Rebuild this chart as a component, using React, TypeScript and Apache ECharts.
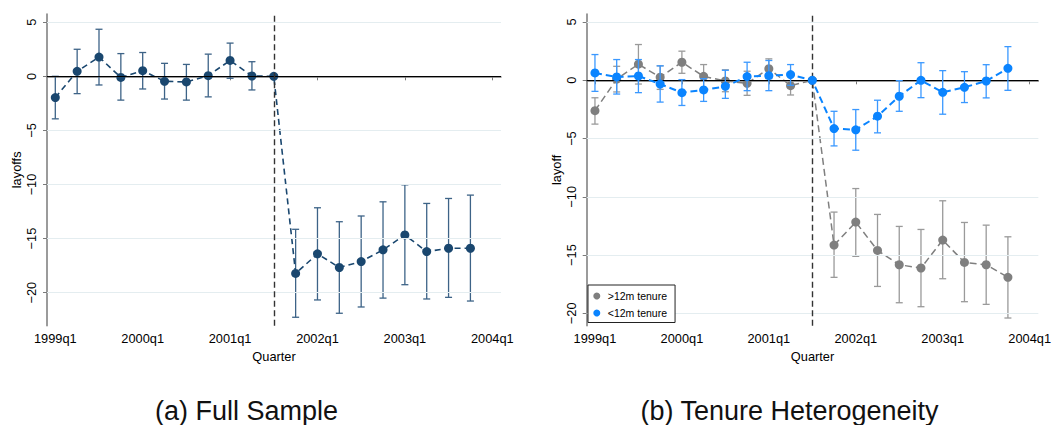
import React, { useEffect, useRef } from "react";
import * as echarts from "echarts";

// Quarter categories (x position = index in this list)
const quarters = [
  "1999q1", "1999q2", "1999q3", "1999q4",
  "2000q1", "2000q2", "2000q3", "2000q4",
  "2001q1", "2001q2", "2001q3", "2001q4",
  "2002q1", "2002q2", "2002q3", "2002q4",
  "2003q1", "2003q2", "2003q3", "2003q4",
];
const xTickPositions = [0, 4, 8, 12, 16, 20];
const xTickLabels = ["1999q1", "2000q1", "2001q1", "2002q1", "2003q1", "2004q1"];
const yTicks = [-20, -15, -10, -5, 0, 5];
const eventIndex = 10;

// (a) Full sample
const fullCoef = [-1.96, 0.46, 1.78, -0.1, 0.52, -0.46, -0.52, 0.06, 1.47, 0.03, 0, -18.22, -16.41, -17.67, -17.12, -16.04, -14.66, -16.2, -15.89, -15.89];
const fullLo = [-3.93, -1.6, -0.8, -2.2, -1.17, -2.1, -2.2, -1.9, -0.18, -1.26, null, -22.27, -20.67, -21.9, -21.32, -20.5, -19.26, -20.58, -20.43, -20.77];
const fullHi = [0.0, 2.5, 4.35, 2.1, 2.2, 1.2, 1.1, 2.05, 3.07, 1.35, null, -14.14, -12.15, -13.44, -12.91, -11.6, -10.03, -11.75, -11.29, -10.98];

// (b) >12m tenure
const oldCoef = [-2.61, 0.1, 1.38, 0.26, 1.55, 0.34, -0.06, -0.26, 1.0, -0.46, 0, -14.14, -12.17, -14.6, -15.83, -16.11, -13.71, -15.63, -15.83, -16.91];
const oldLo = [-3.76, -1.0, -0.32, -0.78, 0.6, -0.63, -0.98, -1.29, 0.15, -1.26, null, -16.91, -15.11, -17.69, -19.09, -19.43, -17.03, -19.0, -19.23, -20.4];
const oldHi = [-1.5, 1.2, 3.07, 1.24, 2.5, 1.35, 0.9, 0.78, 1.84, 0.37, null, -11.31, -9.29, -11.51, -12.54, -12.8, -10.34, -12.2, -12.43, -13.43];

// (b) <12m tenure
const youngCoef = [0.63, 0.29, 0.37, -0.32, -1.06, -0.83, -0.52, 0.32, 0.4, 0.49, 0, -4.14, -4.25, -3.08, -1.37, 0.0, -1.03, -0.6, -0.06, 1.03];
const youngLo = [-0.95, -1.18, -1.06, -1.87, -2.16, -1.81, -1.55, -0.89, -0.89, -0.43, null, -5.63, -6.0, -4.51, -2.66, -1.49, -2.91, -1.91, -1.51, -0.86];
const youngHi = [2.21, 1.78, 1.78, 1.24, 0.06, 0.14, 0.86, 1.55, 1.7, 1.35, null, -2.66, -2.51, -1.71, -0.03, 1.51, 0.83, 0.74, 1.34, 2.89];

const FONT = '"Liberation Sans", Arial, Helvetica, sans-serif';

function pts(coef: number[]) {
  return quarters.map((_, i) => [i, coef[i]]);
}
function bars(lo: (number | null)[], hi: (number | null)[]) {
  const out: number[][] = [];
  quarters.forEach((_, i) => {
    if (lo[i] != null && hi[i] != null) out.push([i, lo[i] as number, hi[i] as number]);
  });
  return out;
}

function errorBarSeries(idx: number, data: number[][], color: string, width: number, z: number) {
  return {
    type: "custom",
    xAxisIndex: idx,
    yAxisIndex: idx,
    z,
    silent: true,
    encode: { x: 0, y: [1, 2] },
    data,
    renderItem: (params: any, api: any) => {
      const x = api.value(0);
      const pLo = api.coord([x, api.value(1)]);
      const pHi = api.coord([x, api.value(2)]);
      const w = 3.5;
      const style = { stroke: color, lineWidth: width, fill: "none" };
      return {
        type: "group",
        children: [
          { type: "line", shape: { x1: pLo[0], y1: pLo[1], x2: pHi[0], y2: pHi[1] }, style },
          { type: "line", shape: { x1: pLo[0] - w, y1: pLo[1], x2: pLo[0] + w, y2: pLo[1] }, style },
          { type: "line", shape: { x1: pHi[0] - w, y1: pHi[1], x2: pHi[0] + w, y2: pHi[1] }, style },
        ],
      };
    },
  };
}

function lineSeries(idx: number, name: string, coef: number[], color: string, width: number, dash: number[], z: number) {
  return {
    type: "line",
    name,
    xAxisIndex: idx,
    yAxisIndex: idx,
    z,
    data: pts(coef),
    symbol: "circle",
    symbolSize: 9,
    showSymbol: true,
    silent: true,
    itemStyle: { color },
    lineStyle: { color, width, type: dash },
  };
}

function helperSeries(idx: number) {
  return {
    type: "line",
    name: "helper" + idx,
    xAxisIndex: idx,
    yAxisIndex: idx,
    data: [],
    z: 1,
    silent: true,
    markLine: {
      silent: true,
      symbol: ["none", "none"],
      label: { show: false },
      animation: false,
      data: [
        ...yTicks.filter((v) => v !== 0).map((v) => ({
          yAxis: v,
          lineStyle: { color: "#e4edf0", width: 1.2, type: "solid" },
        })),
        { yAxis: 0, lineStyle: { color: "#000", width: 1.2, type: "solid" } },
        { xAxis: eventIndex, lineStyle: { color: "#333", width: 1.4, type: [6, 3.5] } },
      ],
    },
  };
}

function xAxisDef(idx: number) {
  return {
    type: "value",
    gridIndex: idx,
    min: -0.38,
    max: 20.4,
    name: "Quarter",
    nameLocation: "middle",
    nameGap: 20,
    nameTextStyle: { fontFamily: FONT, fontSize: 12.8, color: "#000" },
    axisLine: { show: true, lineStyle: { color: "#7a7a7a", width: 1.5 } },
    axisTick: { show: true, length: 4, customValues: xTickPositions, lineStyle: { color: "#7a7a7a", width: 1 } },
    axisLabel: {
      show: true,
      customValues: xTickPositions,
      margin: 6,
      fontFamily: FONT,
      fontSize: 12.8,
      color: "#000",
      formatter: (v: number) => xTickLabels[xTickPositions.indexOf(Math.round(v))] ?? "",
    },
    splitLine: { show: false },
  };
}

function yAxisDef(idx: number, name: string, min: number, max: number) {
  return {
    type: "value",
    gridIndex: idx,
    min,
    max,
    name,
    nameLocation: "middle",
    nameRotate: 90,
    nameGap: 24,
    nameTextStyle: { fontFamily: FONT, fontSize: 12.8, color: "#000" },
    axisLine: { show: true, onZero: false, lineStyle: { color: "#7a7a7a", width: 1.5 } },
    axisTick: { show: true, length: 4, customValues: yTicks, lineStyle: { color: "#7a7a7a", width: 1 } },
    axisLabel: {
      show: true,
      customValues: yTicks,
      rotate: 90,
      margin: 9,
      fontFamily: FONT,
      fontSize: 12.8,
      color: "#000",
      formatter: (v: number) => String(v).replace("-", "\u2212"),
    },
    splitLine: { show: false },
  };
}

export default function App() {
  const ref = useRef<HTMLDivElement>(null);
  useEffect(() => {
    document.body.style.margin = "0";
    if (!ref.current) return;
    const chart = echarts.init(ref.current, undefined, { renderer: "svg", width: 1054, height: 425 });
    const option: any = {
      animation: false,
      backgroundColor: "#fff",
      grid: [
        { left: 47, top: 14, width: 454, height: 311.7 },
        { left: 586.7, top: 14, width: 454, height: 311.7 },
      ],
      xAxis: [xAxisDef(0), xAxisDef(1)],
      yAxis: [yAxisDef(0, "layoffs", -23.05, 5.76), yAxisDef(1, "layoff", -21.06, 5.69)],
      legend: {
        show: true,
        data: [">12m tenure", "<12m tenure"],
        orient: "vertical",
        left: 588,
        top: 285,
        icon: "circle",
        itemWidth: 12,
        itemHeight: 7,
        itemGap: 6,
        padding: [5.5, 8, 4, 5.3],
        borderColor: "#222",
        borderWidth: 1,
        borderRadius: 0,
        backgroundColor: "#fff",
        selectedMode: false,
        textStyle: { fontFamily: FONT, fontSize: 10.5, color: "#000", padding: [0, 0, 0, 0] },
        z: 10,
      },
      graphic: [
        {
          type: "text",
          x: 246.5,
          y: 411,
          style: { text: "(a) Full Sample", fontFamily: FONT, fontSize: 27, fill: "#111", align: "center", verticalAlign: "middle" },
        },
        {
          type: "text",
          x: 789.5,
          y: 411,
          style: { text: "(b) Tenure Heterogeneity", fontFamily: FONT, fontSize: 27, fill: "#111", align: "center", verticalAlign: "middle" },
        },
      ],
      series: [
        helperSeries(0),
        helperSeries(1),
        errorBarSeries(0, bars(fullLo, fullHi), "#3d6387", 1.3, 3),
        lineSeries(0, "layoffs", fullCoef, "#1a476f", 1.6, [6, 4], 4),
        errorBarSeries(1, bars(oldLo, oldHi), "#9a9a9a", 1.3, 3),
        lineSeries(1, ">12m tenure", oldCoef, "#7f7f7f", 1.5, [7, 4], 4),
        errorBarSeries(1, bars(youngLo, youngHi), "#3a98ff", 1.3, 5),
        lineSeries(1, "<12m tenure", youngCoef, "#0a84ff", 2, [7, 4], 6),
      ],
    };
    chart.setOption(option);
    return () => chart.dispose();
  }, []);
  return <div ref={ref} style={{ width: 1054, height: 425 }} />;
}
